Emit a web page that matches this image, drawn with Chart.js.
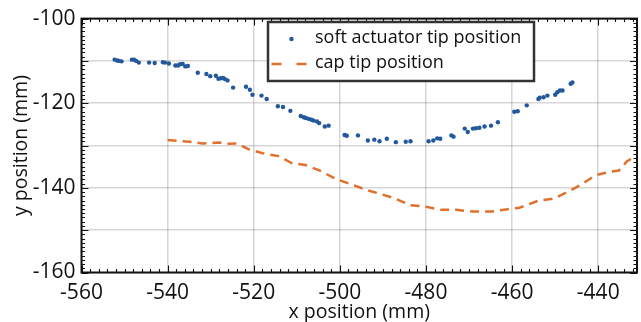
<!DOCTYPE html>
<html><head><meta charset="utf-8">
<script src="https://cdn.jsdelivr.net/npm/chart.js@4/dist/chart.umd.min.js"></script>
<style>html,body{margin:0;padding:0;background:#fff;overflow:hidden;}</style>
</head><body>
<canvas id="c" width="641" height="322"></canvas>
<script>
const softX = [-552.3,-551.7,-551.3,-550.7,-548.3,-547.8,-547.3,-546.7,-544.3,-543.0,-541.1,-540.6,-539.7,-538.2,-537.6,-537.1,-536.5,-535.9,-535.3,-533.0,-531.0,-530.1,-528.8,-528.2,-527.6,-527.1,-526.7,-526.1,-524.8,-521.8,-520.9,-520.3,-518.2,-517.0,-514.4,-513.2,-511.5,-509.1,-508.4,-507.9,-507.2,-506.6,-506.1,-505.3,-504.8,-503.5,-502.6,-498.9,-498.4,-495.8,-493.5,-492.0,-490.8,-489.1,-487.0,-484.7,-483.6,-479.4,-478.3,-477.4,-476.7,-474.1,-473.6,-471.0,-470.3,-469.1,-468.4,-467.6,-466.4,-464.9,-463.3,-459.5,-458.7,-456.6,-453.9,-453.6,-452.7,-451.8,-450.0,-449.5,-448.9,-448.3,-446.4,-446.0];
const softY = [-109.7,-109.9,-110.0,-110.1,-109.7,-109.7,-110.0,-110.4,-110.4,-110.5,-110.3,-110.4,-110.6,-111.1,-111.1,-110.8,-110.7,-111.3,-111.2,-112.8,-113.1,-113.6,-113.5,-114.2,-114.1,-114.0,-114.3,-114.6,-116.3,-116.1,-116.8,-118.0,-118.2,-119.0,-120.7,-120.9,-121.8,-123.0,-123.3,-123.5,-123.7,-123.9,-124.1,-124.3,-124.7,-125.5,-125.3,-127.5,-127.7,-127.6,-128.8,-128.6,-129.0,-128.4,-129.2,-129.1,-129.0,-129.0,-128.8,-128.3,-128.4,-127.6,-127.9,-126.0,-126.8,-126.0,-125.9,-125.8,-125.5,-125.3,-124.5,-122.0,-121.9,-120.5,-119.0,-118.7,-118.6,-118.2,-118.0,-117.4,-117.0,-117.0,-115.4,-115.1];
const capX = [-540.0,-535.0,-531.9,-528.0,-525.7,-523.9,-521.1,-517.6,-514.2,-511.1,-508.0,-504.5,-501.1,-497.6,-493.8,-490.7,-487.2,-483.7,-480.3,-476.4,-473.0,-469.1,-464.9,-461.4,-458.3,-454.1,-450.3,-447.2,-444.1,-440.6,-437.2,-435.2,-433.3,-431.2];
const capY = [-128.7,-129.1,-129.5,-129.3,-129.6,-129.5,-130.9,-131.9,-132.5,-134.2,-134.6,-136.0,-137.8,-139.1,-140.5,-141.4,-142.5,-144.1,-144.4,-145.2,-145.2,-145.6,-145.6,-145.1,-144.7,-143.1,-142.5,-141.0,-139.3,-137.0,-136.2,-135.9,-133.7,-132.5];
const xTickLabels = [-560,-540,-520,-500,-480,-460,-440];
const yTickLabels = [-160,-140,-120,-100];
const yGridValues = [-160,-150,-140,-130,-120,-110,-100];
const seriesNames = ['soft actuator tip position','cap tip position'];
const xTitle = 'x position (mm)';
const yTitle = 'y position (mm)';

const BLUE = '#23599c', ORANGE = '#e0702c', FONT = '"Open Sans", sans-serif';

const axesDeco = {
  id: 'axesDeco',
  afterDatasetsDraw(chart) {
    const {ctx, chartArea: a, scales: {x, y}} = chart;
    ctx.save();
    ctx.strokeStyle = '#111';
    ctx.lineWidth = 1.1;
    ctx.beginPath();
    for (let v = x.min; v <= x.max; v += 2) {
      const px = Math.round(x.getPixelForValue(v)) + 0.5;
      const L = (v % 20 === 0) ? 7 : 3.5;
      ctx.moveTo(px, a.bottom); ctx.lineTo(px, a.bottom - L);
      ctx.moveTo(px, a.top); ctx.lineTo(px, a.top + L);
    }
    for (let v = y.min; v <= y.max; v += 1) {
      const py = Math.round(y.getPixelForValue(v)) + 0.5;
      const L = (v % 10 === 0) ? 7 : 3.5;
      ctx.moveTo(a.left, py); ctx.lineTo(a.left + L, py);
      ctx.moveTo(a.right, py); ctx.lineTo(a.right - L, py);
    }
    ctx.stroke();
    ctx.lineWidth = 2;
    ctx.strokeRect(a.left, a.top, a.right - a.left, a.bottom - a.top);
    ctx.restore();
  }
};

const legendBox = {
  id: 'legendBox',
  afterDraw(chart) {
    const ctx = chart.ctx, ds = chart.data.datasets;
    const bx = 268, by = 22, bw = 266, bh = 59;
    ctx.save();
    ctx.fillStyle = '#fff';
    ctx.fillRect(bx, by, bw, bh);
    ctx.lineWidth = 2.5;
    ctx.strokeStyle = '#333';
    ctx.strokeRect(bx, by, bw, bh);
    ctx.font = '18px ' + FONT;
    ctx.textBaseline = 'middle';
    ctx.fillStyle = ds[0].backgroundColor;
    ctx.beginPath(); ctx.arc(291.5, 39, 2.2, 0, Math.PI * 2); ctx.fill();
    ctx.fillStyle = '#111';
    ctx.fillText(ds[0].label, 315, 38);
    ctx.strokeStyle = ds[1].borderColor;
    ctx.lineWidth = 2.5;
    ctx.setLineDash([10, 15]);
    ctx.beginPath(); ctx.moveTo(271.5, 64); ctx.lineTo(307, 64); ctx.stroke();
    ctx.setLineDash([]);
    ctx.fillText(ds[1].label, 315, 63);
    ctx.restore();
  }
};

new Chart(document.getElementById('c'), {
  type: 'scatter',
  data: {
    datasets: [
      { label: seriesNames[0], data: softX.map((v, i) => ({x: v, y: softY[i]})),
        backgroundColor: BLUE, borderColor: BLUE, pointRadius: 2.2, pointBorderWidth: 0, showLine: false },
      { label: seriesNames[1], data: capX.map((v, i) => ({x: v, y: capY[i]})),
        borderColor: ORANGE, backgroundColor: ORANGE, showLine: true, pointRadius: 0,
        borderWidth: 2.5, borderDash: [9, 6], tension: 0 }
    ]
  },
  options: {
    responsive: false, animation: false, devicePixelRatio: 1,
    layout: { padding: { top: 12, right: 1.5, left: 0, bottom: 0 } },
    plugins: { legend: { display: false }, tooltip: { enabled: false } },
    scales: {
      x: {
        type: 'linear', min: -560, max: -431,
        afterBuildTicks: s => { s.ticks = xTickLabels.map(v => ({value: v})); },
        afterFit: s => { s.height = 49.5; },
        grid: { color: 'rgba(0,0,0,0.16)', lineWidth: 1.5, drawTicks: false },
        border: { display: false },
        ticks: { color: '#111', font: { family: FONT, size: 21 }, padding: 8, maxRotation: 0, autoSkip: false },
        title: { display: true, text: xTitle, color: '#111', font: { family: FONT, size: 19.5, lineHeight: 1 }, padding: 0 }
      },
      y: {
        type: 'linear', min: -160, max: -100,
        afterBuildTicks: s => { s.ticks = yGridValues.map(v => ({value: v})); },
        afterFit: s => { s.width = 81.5; },
        grid: { color: 'rgba(0,0,0,0.16)', lineWidth: 1.5, drawTicks: false },
        border: { display: false },
        ticks: { color: '#111', font: { family: FONT, size: 21 }, padding: 6, autoSkip: false,
                 callback: v => yTickLabels.includes(v) ? String(v) : '' },
        title: { display: true, text: yTitle, color: '#111', font: { family: FONT, size: 19.5, lineHeight: 1 }, padding: { top: 12, bottom: 0 } }
      }
    }
  },
  plugins: [axesDeco, legendBox]
});
</script>
</body></html>
